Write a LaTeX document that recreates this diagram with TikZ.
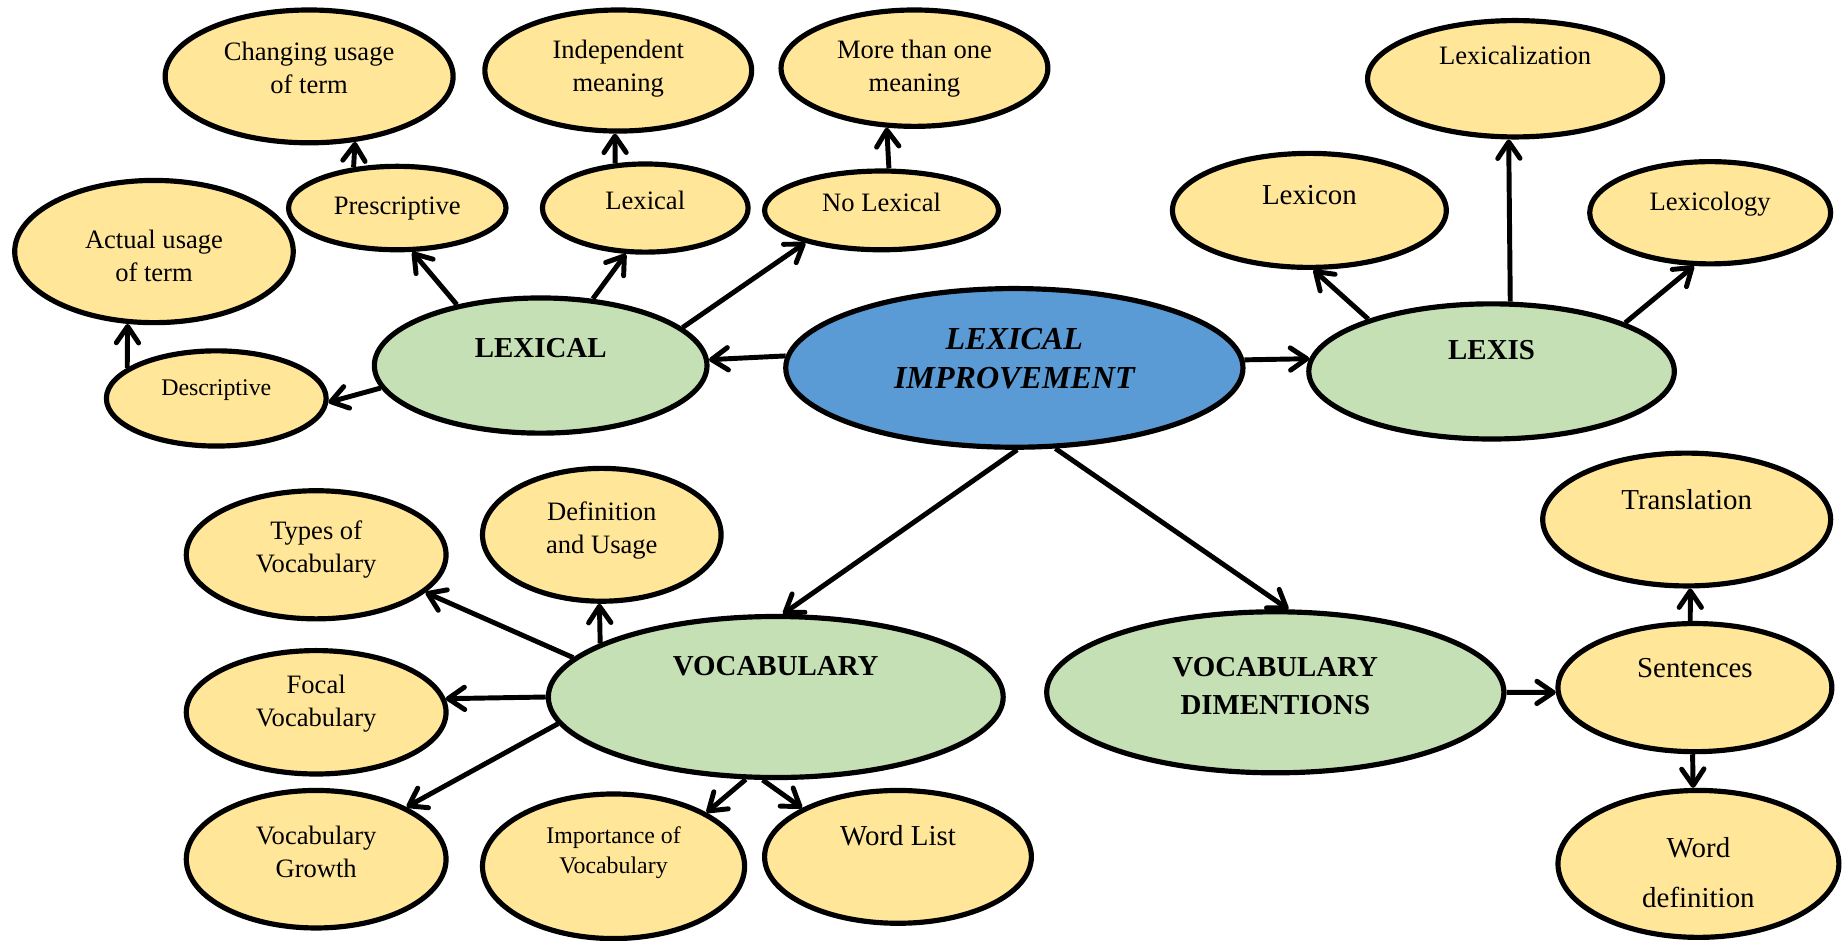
\documentclass[tikz,border=0pt]{standalone}
\usepackage{fontspec}
\setmainfont{Liberation Serif}
\usetikzlibrary{shapes.geometric,arrows.meta}

\definecolor{leaf}{HTML}{FFE699}
\definecolor{branchgreen}{HTML}{C5E0B4}
\definecolor{rootblue}{HTML}{5B9BD5}

% centred block of lines, raised by #1 above the node centre
\newcommand{\ntext}[2]{\raisebox{\dimexpr#1-0.3em\relax}[0pt][0pt]{\begin{tabular}{@{}c@{}}#2\end{tabular}}}

\tikzset{
  dims/.style 2 args={minimum width=#1pt, minimum height=#2pt},
  base/.style={ellipse, draw=black, line width=4.4pt, inner sep=0pt,
               font=\fontsize{22.6}{28}\selectfont},
  leafnode/.style={base, fill=leaf},
  smalltext/.style={font=\fontsize{20.3}{25}\selectfont},
  largetext/.style={font=\fontsize{24.6}{30}\selectfont},
  branch/.style={base, fill=branchgreen, font=\fontsize{24.6}{32}\selectfont\bfseries},
  root/.style={base, fill=rootblue, font=\fontsize{27.3}{33}\selectfont\bfseries\itshape},
  arr/.style={line width=4.2pt, -{Straight Barb[length=14pt,width=19pt,round]}}
}

\begin{document}
\begin{tikzpicture}[x=1pt, y=-1pt]
\useasboundingbox (0,0) rectangle (1568,800);

% centre
\node[root, dims={389}{135}] (imp) at (863,313) {\ntext{7.5pt}{LEXICAL\\IMPROVEMENT}};

% main branches
\node[branch, dims={283}{115}] (lexical) at (460,311) {\ntext{14pt}{LEXICAL}};
\node[branch, dims={311}{115}] (lexis) at (1269,316) {\ntext{18pt}{LEXIS}};
\node[branch, dims={387}{137}] (vocab) at (660,593) {\ntext{26pt}{VOCABULARY}};
\node[branch, dims={389}{137}] (dim) at (1085,589) {\ntext{5pt}{VOCABULARY\\DIMENTIONS}};

% LEXICAL subtree
\node[leafnode, dims={245}{113}] (chg) at (263,65) {\ntext{6.5pt}{Changing usage\\of term}};
\node[leafnode, dims={227}{103}] (ind) at (526,60) {\ntext{3pt}{Independent\\meaning}};
\node[leafnode, dims={227}{99}] (more) at (778,58) {\ntext{1pt}{More than one\\meaning}};
\node[leafnode, dims={185}{71}] (pre) at (338,177) {\ntext{2pt}{Prescriptive}};
\node[leafnode, dims={175}{75}] (lexy) at (549,177) {\ntext{6pt}{Lexical}};
\node[leafnode, dims={199}{67}] (nolex) at (750,179) {\ntext{6pt}{No Lexical}};
\node[leafnode, dims={237}{121}] (act) at (131,214) {\ntext{-4pt}{Actual usage\\of term}};
\node[leafnode, smalltext, dims={187}{81}] (des) at (184,339) {\ntext{8pt}{Descriptive}};

% LEXIS subtree
\node[leafnode, largetext, dims={233}{97}] (lexicon) at (1114,179) {\ntext{12pt}{Lexicon}};
\node[leafnode, dims={251}{99}] (lexz) at (1289,67) {\ntext{19pt}{Lexicalization}};
\node[leafnode, dims={205}{87}] (lexgy) at (1455,181) {\ntext{9pt}{Lexicology}};

% VOCABULARY subtree
\node[leafnode, dims={221}{109}] (types) at (269,472) {\ntext{6.5pt}{Types of\\Vocabulary}};
\node[leafnode, dims={203}{113}] (defu) at (512,455) {\ntext{5pt}{Definition\\and Usage}};
\node[leafnode, dims={221}{105}] (focal) at (269,606) {\ntext{9pt}{Focal\\Vocabulary}};
\node[leafnode, dims={221}{117}] (growth) at (269,731) {\ntext{6pt}{Vocabulary\\Growth}};
\node[leafnode, smalltext, dims={223}{123}] (impv) at (522,737) {\ntext{12.5pt}{Importance of\\Vocabulary}};
\node[leafnode, largetext, dims={227}{113}] (wlist) at (764,729) {\ntext{17pt}{Word List}};

% VOCABULARY DIMENTIONS subtree
\node[leafnode, largetext, dims={245}{113}] (trans) at (1435,442) {\ntext{16pt}{Translation}};
\node[leafnode, largetext, dims={233}{109}] (sent) at (1442,585) {\ntext{16pt}{Sentences}};
\node[leafnode, largetext, dims={239}{125}] (wdef) at (1445,735) {\ntext{-8.5pt}{Word\\[13pt]definition}};

% connectors from the centre
\draw[arr] (imp.177.6) -- (lexical.2.4);
\draw[arr] (imp.2.4) -- (lexis.176);
\draw[arr] (imp.272.5) -- (vocab.85.9);
\draw[arr] (imp.297.9) -- (dim.81.3);

% LEXICAL connectors
\draw[arr] (lexical.188.8) -- (des.358.2);
\draw[arr] (lexical.144.8) -- (pre.289.7);
\draw[arr] (lexical.52.1) -- (lexy.247);
\draw[arr] (lexical.15.7) -- (nolex.203.8);
\draw[arr] (des.161.1) -- (act.250.7);
\draw[arr] (pre.137.3) -- (chg.305.8);
\draw[arr] (lexy.124.5) -- (ind.267.8);
\draw[arr] (nolex.80) -- (more.245.8);

% LEXIS connectors
\draw[arr] (lexis.157.5) -- (lexicon.274.6);
\draw[arr] (lexis.75.4) -- (lexz.264.3);
\draw[arr] (lexis.20.6) -- (lexgy.253);

% VOCABULARY connectors
\draw[arr] (vocab.169.9) -- (types.341.6);
\draw[arr] (vocab.163.7) -- (defu.268);
\draw[arr] (vocab.180) -- (focal.6.9);
\draw[arr] (vocab.187.7) -- (growth.30.8);
\draw[arr] (vocab.250.5) -- (impv.30.4);
\draw[arr] (vocab.261.8) -- (wlist.153.2);

% VOCABULARY DIMENTIONS connectors
\draw[arr] (dim.0) -- (sent.182);
\draw[arr] (sent.94.2) -- (trans.273);
\draw[arr] (sent.268) -- (wdef.94.5);
\end{tikzpicture}
\end{document}
